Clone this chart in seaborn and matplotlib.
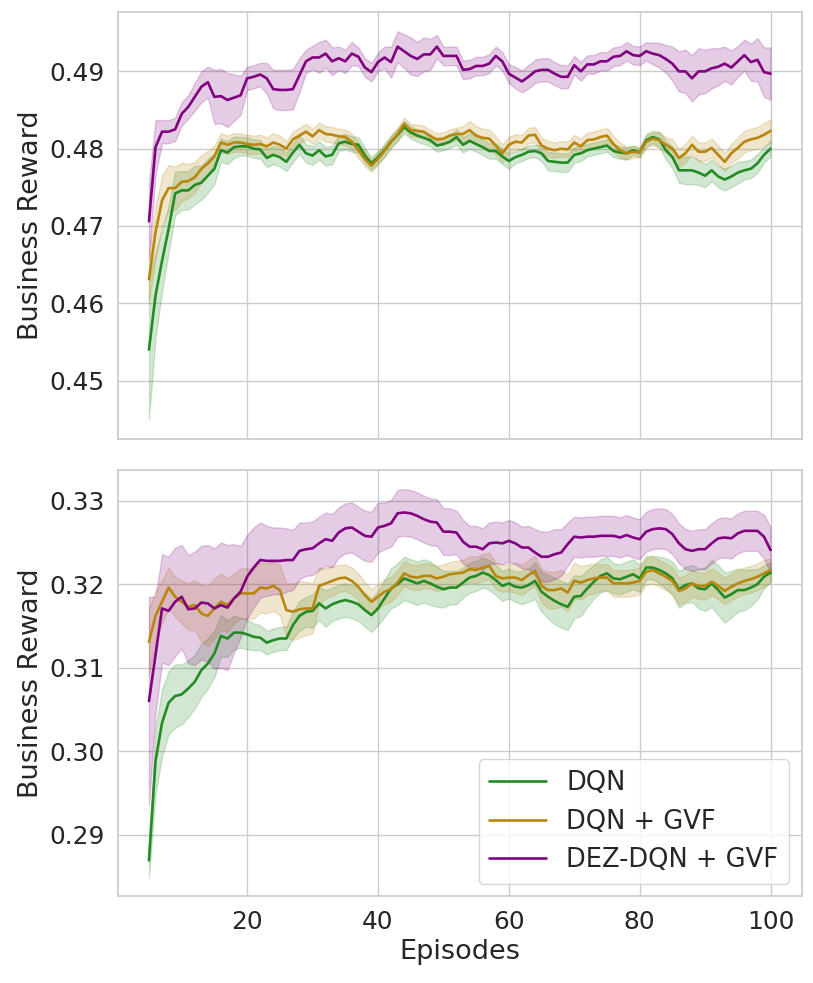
import numpy as np
import pandas as pd
import matplotlib.pyplot as plt
import seaborn as sns

episodes = list(range(5, 101))
methods = ['DQN', 'DQN + GVF', 'DEZ-DQN + GVF']
colors = ['forestgreen', 'darkgoldenrod', 'purple']

# all rewards below are in units of 1e-4 (4803 -> 0.4803), one value per episode 5..100
# top panel: mean curves
top_dqn = [4540, 4610, 4655, 4696, 4742, 4746, 4746, 4753, 4756, 4765,
           4774, 4798, 4795, 4802, 4803, 4803, 4800, 4799, 4788, 4792,
           4789, 4783, 4795, 4805, 4794, 4791, 4798, 4790, 4792, 4807,
           4809, 4806, 4805, 4791, 4781, 4789, 4798, 4809, 4818, 4828,
           4821, 4817, 4814, 4811, 4804, 4806, 4809, 4815, 4805, 4810,
           4806, 4802, 4797, 4797, 4790, 4784, 4789, 4792, 4796, 4797,
           4794, 4784, 4783, 4782, 4782, 4792, 4794, 4798, 4800, 4802,
           4804, 4797, 4795, 4794, 4798, 4795, 4811, 4815, 4812, 4798,
           4789, 4772, 4772, 4772, 4769, 4765, 4772, 4764, 4760, 4764,
           4769, 4772, 4774, 4781, 4792, 4800]
top_gvf = [4631, 4692, 4733, 4749, 4749, 4757, 4758, 4763, 4774, 4781,
           4790, 4808, 4805, 4808, 4808, 4806, 4805, 4806, 4803, 4808,
           4805, 4800, 4812, 4817, 4822, 4816, 4824, 4819, 4818, 4816,
           4815, 4809, 4798, 4787, 4778, 4787, 4797, 4809, 4819, 4832,
           4824, 4823, 4822, 4816, 4812, 4813, 4817, 4819, 4819, 4824,
           4817, 4814, 4813, 4804, 4794, 4805, 4809, 4808, 4817, 4818,
           4804, 4800, 4798, 4800, 4799, 4808, 4803, 4811, 4812, 4815,
           4817, 4806, 4798, 4794, 4796, 4795, 4809, 4813, 4811, 4805,
           4800, 4788, 4794, 4805, 4796, 4796, 4801, 4792, 4783, 4794,
           4801, 4809, 4812, 4814, 4818, 4823]
top_dez = [4706, 4802, 4822, 4822, 4825, 4845, 4854, 4867, 4880, 4886,
           4867, 4868, 4863, 4866, 4869, 4891, 4893, 4896, 4891, 4877,
           4876, 4876, 4877, 4895, 4913, 4918, 4918, 4923, 4913, 4917,
           4913, 4923, 4919, 4905, 4899, 4912, 4918, 4912, 4932, 4926,
           4920, 4916, 4922, 4922, 4932, 4920, 4920, 4920, 4902, 4903,
           4907, 4907, 4910, 4920, 4913, 4897, 4892, 4887, 4893, 4900,
           4902, 4902, 4897, 4893, 4893, 4908, 4900, 4909, 4909, 4913,
           4913, 4919, 4920, 4926, 4921, 4920, 4926, 4923, 4921, 4916,
           4910, 4900, 4900, 4891, 4900, 4900, 4904, 4906, 4910, 4905,
           4913, 4921, 4912, 4915, 4899, 4897]
# top panel: half width of the shaded band
top_dqn_sd = [90, 55, 40, 30, 28, 25, 25, 25, 22, 22,
              20, 15, 15, 14, 12, 12, 12, 12, 12, 12,
              12, 12, 12, 12, 12, 12, 12, 12, 12, 10,
              10, 10, 10, 10, 8, 8, 8, 8, 8, 8,
              8, 8, 8, 8, 8, 8, 8, 10, 10, 10,
              10, 10, 10, 10, 10, 10, 8, 8, 8, 8,
              10, 12, 12, 12, 12, 10, 10, 8, 8, 8,
              8, 8, 8, 8, 6, 6, 8, 8, 10, 12,
              14, 16, 18, 18, 16, 15, 14, 14, 14, 14,
              14, 12, 12, 12, 10, 10]
top_gvf_sd = [30, 35, 32, 30, 28, 25, 22, 20, 18, 16,
              14, 12, 12, 12, 12, 12, 12, 12, 12, 12,
              12, 10, 10, 10, 10, 10, 10, 10, 10, 10,
              10, 10, 10, 10, 8, 8, 8, 8, 8, 8,
              8, 8, 8, 8, 8, 8, 8, 8, 10, 12,
              12, 12, 12, 12, 12, 10, 10, 10, 10, 10,
              10, 10, 10, 10, 10, 10, 10, 10, 10, 10,
              10, 10, 10, 8, 8, 6, 8, 8, 10, 10,
              12, 12, 12, 12, 12, 12, 12, 12, 12, 12,
              14, 14, 14, 14, 15, 15]
top_dez_sd = [50, 35, 15, 15, 15, 15, 15, 18, 20, 20,
              35, 35, 35, 30, 25, 15, 15, 15, 20, 25,
              26, 26, 26, 22, 15, 15, 20, 18, 18, 15,
              15, 15, 12, 12, 12, 12, 14, 20, 20, 22,
              24, 22, 22, 20, 15, 12, 12, 12, 12, 12,
              12, 12, 12, 12, 12, 12, 14, 14, 15, 15,
              15, 15, 15, 15, 15, 12, 12, 12, 12, 12,
              12, 12, 12, 12, 12, 12, 12, 14, 16, 18,
              22, 26, 28, 30, 30, 28, 26, 24, 22, 22,
              20, 20, 24, 28, 32, 34]

# bottom panel: mean curves
bot_dqn = [2869, 2988, 3034, 3058, 3066, 3068, 3075, 3083, 3097, 3105,
           3117, 3138, 3135, 3142, 3142, 3140, 3137, 3136, 3130, 3133,
           3135, 3135, 3151, 3162, 3167, 3168, 3177, 3171, 3176, 3179,
           3181, 3179, 3176, 3169, 3163, 3171, 3183, 3195, 3200, 3207,
           3204, 3201, 3204, 3201, 3197, 3194, 3196, 3196, 3202, 3208,
           3210, 3214, 3211, 3205, 3198, 3201, 3197, 3196, 3199, 3204,
           3191, 3185, 3180, 3176, 3173, 3185, 3186, 3195, 3203, 3210,
           3213, 3207, 3206, 3209, 3212, 3207, 3220, 3220, 3217, 3213,
           3207, 3194, 3199, 3201, 3195, 3194, 3201, 3193, 3184, 3188,
           3193, 3193, 3196, 3200, 3209, 3214]
bot_gvf = [3131, 3162, 3179, 3196, 3185, 3179, 3173, 3175, 3165, 3162,
           3171, 3179, 3175, 3183, 3189, 3189, 3189, 3196, 3195, 3198,
           3193, 3169, 3167, 3170, 3171, 3171, 3198, 3201, 3204, 3207,
           3208, 3204, 3197, 3187, 3179, 3185, 3191, 3194, 3202, 3213,
           3209, 3208, 3210, 3210, 3207, 3209, 3212, 3213, 3214, 3218,
           3217, 3220, 3222, 3210, 3207, 3208, 3208, 3205, 3211, 3216,
           3198, 3193, 3193, 3195, 3190, 3204, 3202, 3205, 3207, 3208,
           3208, 3201, 3201, 3201, 3202, 3204, 3215, 3217, 3213, 3209,
           3204, 3192, 3195, 3201, 3198, 3198, 3203, 3198, 3192, 3197,
           3201, 3204, 3206, 3209, 3213, 3217]
bot_dez = [3060, 3115, 3171, 3168, 3179, 3185, 3170, 3171, 3178, 3177,
           3171, 3175, 3172, 3183, 3191, 3209, 3220, 3229, 3228, 3228,
           3228, 3229, 3229, 3240, 3242, 3243, 3249, 3254, 3252, 3262,
           3267, 3268, 3263, 3258, 3257, 3268, 3270, 3273, 3285, 3286,
           3285, 3282, 3278, 3275, 3274, 3263, 3263, 3262, 3251, 3245,
           3245, 3242, 3249, 3250, 3249, 3252, 3249, 3244, 3244, 3238,
           3233, 3233, 3236, 3238, 3248, 3257, 3256, 3257, 3257, 3258,
           3258, 3258, 3256, 3259, 3256, 3254, 3263, 3266, 3267, 3266,
           3260, 3249, 3242, 3240, 3242, 3242, 3249, 3255, 3256, 3255,
           3261, 3264, 3264, 3264, 3257, 3241]
# bottom panel: half width of the shaded band
bot_dqn_sd = [20, 40, 40, 38, 38, 36, 34, 32, 32, 30,
              28, 25, 22, 20, 18, 18, 16, 15, 14, 14,
              14, 14, 16, 18, 18, 20, 20, 22, 20, 20,
              20, 20, 20, 20, 20, 20, 22, 24, 25, 26,
              26, 26, 26, 26, 24, 22, 20, 20, 18, 18,
              18, 18, 18, 18, 18, 18, 18, 20, 20, 22,
              24, 26, 28, 28, 28, 26, 24, 22, 20, 20,
              20, 18, 18, 18, 18, 16, 14, 14, 16, 18,
              20, 22, 22, 22, 24, 26, 28, 30, 30, 28,
              26, 24, 22, 18, 14, 12]
bot_gvf_sd = [40, 30, 26, 24, 24, 26, 28, 30, 34, 36,
              36, 34, 32, 30, 30, 30, 30, 30, 30, 30,
              30, 32, 34, 34, 32, 30, 22, 18, 18, 16,
              16, 16, 16, 16, 15, 15, 15, 15, 15, 15,
              15, 15, 15, 15, 15, 15, 15, 15, 15, 16,
              16, 16, 16, 16, 16, 16, 18, 18, 18, 18,
              20, 22, 22, 22, 22, 22, 20, 18, 18, 16,
              16, 16, 16, 16, 16, 16, 16, 16, 16, 16,
              16, 16, 16, 16, 16, 16, 16, 16, 16, 16,
              16, 16, 16, 16, 16, 14]
bot_dez_sd = [125, 70, 65, 65, 65, 62, 65, 68, 68, 70,
              72, 75, 75, 65, 55, 50, 48, 45, 42, 40,
              40, 38, 36, 34, 32, 32, 32, 32, 32, 30,
              30, 30, 30, 30, 30, 30, 28, 28, 28, 28,
              28, 28, 28, 28, 28, 28, 28, 26, 26, 25,
              25, 25, 25, 25, 25, 25, 25, 25, 26, 28,
              30, 30, 30, 28, 26, 24, 24, 24, 24, 24,
              24, 24, 24, 24, 24, 24, 24, 24, 24, 24,
              24, 24, 24, 24, 24, 24, 24, 24, 24, 24,
              24, 24, 24, 24, 26, 28]


def long_form(means, spreads):
    # three rows per episode (low, mean, high): median gives the line, full range gives the band
    parts = []
    for name, m, s in zip(methods, means, spreads):
        m = np.array(m) / 1e4
        s = np.array(s) / 1e4
        for k in (-1, 0, 1):
            parts.append(pd.DataFrame({'Episodes': episodes,
                                       'Business Reward': m + k * s,
                                       'method': name}))
    return pd.concat(parts, ignore_index=True)


df_top = long_form([top_dqn, top_gvf, top_dez], [top_dqn_sd, top_gvf_sd, top_dez_sd])
df_bot = long_form([bot_dqn, bot_gvf, bot_dez], [bot_dqn_sd, bot_gvf_sd, bot_dez_sd])

sns.set_theme(style='whitegrid', font_scale=1.63)
fig, axes = plt.subplots(2, 1, figsize=(8.13, 9.83), dpi=100, sharex=True)
fig.subplots_adjust(left=0.145, right=0.986, top=0.988, bottom=0.088, hspace=0.073)

for ax, df in zip(axes, [df_top, df_bot]):
    sns.lineplot(data=df, x='Episodes', y='Business Reward', hue='method',
                 hue_order=methods, palette=colors, estimator='median',
                 errorbar=('pi', 100), linewidth=1.9, ax=ax)

axes[0].get_legend().remove()
axes[0].set_xlabel('')
axes[1].legend(loc='lower right', fontsize=18.5, handlelength=2.2)

fig.savefig('out.png', dpi=100)
